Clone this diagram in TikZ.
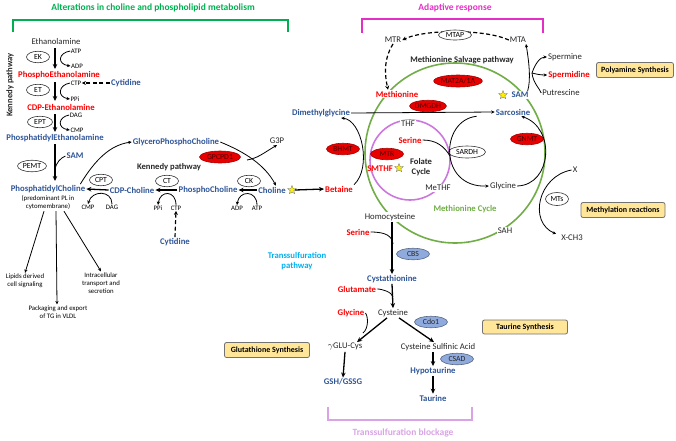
\documentclass[tikz,border=0pt]{standalone}
\usepackage{fontspec}
\setmainfont{Carlito}
\usetikzlibrary{arrows.meta,shapes.geometric,calc}
\definecolor{cblue}{HTML}{2F5597}
\definecolor{cred}{HTML}{FF0000}
\definecolor{tgreen}{HTML}{00B050}
\definecolor{cgreen}{HTML}{70AD47}
\definecolor{cmag}{HTML}{E42FC6}
\definecolor{cviol}{HTML}{CC77DD}
\definecolor{ccyan}{HTML}{00B0F0}
\definecolor{cblock}{HTML}{D9A3E6}
\definecolor{ered}{HTML}{E80000}
\definecolor{etxt}{HTML}{4A0000}
\definecolor{eblue}{HTML}{8FAADC}
\definecolor{boxfill}{HTML}{FFE699}
\begin{document}
\begin{tikzpicture}[x=1pt,y=-1pt,
  bb/.style={font=\fontsize{8.7}{9.5}\selectfont\bfseries, text=cblue, inner sep=1pt},
  rb/.style={font=\fontsize{8.7}{9.5}\selectfont\bfseries, text=cred, inner sep=1pt},
  kb/.style={font=\fontsize{8.6}{9.5}\selectfont\bfseries, text=black!85, inner sep=1pt},
  lbl/.style={font=\fontsize{8.7}{9.5}\selectfont, text=black!85, inner sep=1pt},
  sm/.style={font=\fontsize{6.8}{7}\selectfont, inner sep=0.5pt},
  note/.style={font=\fontsize{6.8}{8}\selectfont, align=center, inner sep=1pt},
  enz/.style={ellipse, draw=black!80, line width=0.6pt, fill=white, font=\fontsize{7.8}{8}\selectfont, inner sep=0pt, minimum width=23pt, minimum height=11.5pt},
  renz/.style={enz, fill=ered, draw=ered!70!black, text=etxt, minimum width=33pt},
  benz/.style={enz, fill=eblue, draw=eblue!60!black, text=black!85, minimum width=33pt},
  box/.style={rounded corners=2pt, draw=black!55, fill=boxfill, line width=0.8pt, font=\fontsize{8}{9}\selectfont\bfseries, minimum height=15pt, inner sep=1pt},
  thk/.style={line width=1.3pt, -{Stealth[length=5pt,width=4.5pt]}},
  thn/.style={line width=0.8pt, -{Stealth[length=3.5pt,width=3.2pt]}},
  ln/.style={line width=0.8pt},
  dsh/.style={line width=1.2pt, dash pattern=on 4pt off 2.5pt, -{Stealth[length=4pt,width=4pt]}},
  ystar/.style={star, star points=5, star point ratio=2.3, fill=yellow, draw=black!50, line width=0.4pt, minimum size=9pt, inner sep=0pt},
  ttl/.style={font=\fontsize{9.5}{11}\selectfont\bfseries}
]
\useasboundingbox (0,0) rectangle (676,440);

% ---------- titles and brackets ----------
\node[ttl, text=tgreen] (t1) at (153,8) {Alterations in choline and phospholipid metabolism};
\draw[tgreen, line width=1.2pt] (13,32) -- (13,20) -- (288,20) -- (288,32);
\node[ttl, text=cmag] (t2) at (455,8) {Adaptive response};
\draw[cmag, line width=1.2pt] (362,33) -- (362,19) -- (543,19) -- (543,33);
\node[ttl, text=cblock] (t3) at (403,433) {Transsulfuration blockage};
\draw[cblock, line width=1.2pt] (328,407) -- (328,420) -- (472,420) -- (472,407);

% ---------- Kennedy pathway (ethanolamine) ----------
\node[kb, rotate=90] (kp1) at (10,85) {Kennedy pathway};
\node[lbl] (etn) at (56,42) {Ethanolamine};
\node[enz] (ek) at (38,57) {EK};
\node[sm] (atp1) at (76,51) {ATP};
\node[sm] (adp1) at (77,66) {ADP};
\node[rb] (pe) at (59,75) {PhosphoEthanolamine};
\node[enz] (et) at (38,90) {ET};
\node[sm] (ctp1) at (76,83) {CTP};
\node[sm] (ppi1) at (75,99) {PPi};
\node[bb] (cyt1) at (126,83) {Cytidine};
\node[rb] (cdpe) at (61,107) {CDP-Ethanolamine};
\node[enz, minimum width=25pt] (ept) at (40,122) {EPT};
\node[sm] (dag1) at (76,115) {DAG};
\node[sm] (cmp1) at (77,130) {CMP};
\node[bb] (ptde) at (55,138) {PhosphatidylEthanolamine};

\draw[thk] (55,48) -- (55,69);
\draw[thk] (55,82) -- (55,101);
\draw[thk] (55,114) -- (55,132);
\draw[thn] (atp1.west) .. controls (58,53) and (57,64) .. (adp1.west);
\draw[thn] (ctp1.west) .. controls (58,85) and (57,97) .. (ppi1.west);
\draw[thn] (dag1.west) .. controls (58,117) and (57,128) .. (cmp1.west);
\draw[dsh] (cyt1.west) -- (ctp1.east);

% ---------- PE -> PC ----------
\node[bb] (sam1) at (75,156) {SAM};
\node[enz, minimum width=29pt] (pemt) at (32,166) {PEMT};
\node[bb] (pc) at (48,189) {PhosphatidylCholine};
\node[note] (pcn) at (48,203) {(predominant PL in\\cytomembrane)};
\draw[thk] (55,144) -- (55,181);
\draw[ln] (sam1.west) .. controls (61,158) and (56,162) .. (55,170);

% ---------- Kennedy pathway (choline) ----------
\node[kb] (kp2) at (169,167) {Kennedy pathway};
\node[enz] (cpt) at (101,180) {CPT};
\node[bb] (cdpc) at (132,190) {CDP-Choline};
\node[sm] (cmp2) at (88,207) {CMP};
\node[sm] (dag2) at (112,207) {DAG};
\node[enz] (ct) at (167,181) {CT};
\node[bb] (phc) at (208,190) {PhosphoCholine};
\node[sm] (ppi2) at (158,208) {PPi};
\node[sm] (ctp2) at (176,208) {CTP};
\node[bb] (cyt2) at (175,242) {Cytidine};
\node[enz] (ck) at (249,181) {CK};
\node[bb] (chol) at (272,190) {Choline};
\node[sm] (adp2) at (237,208) {ADP};
\node[sm] (atp2) at (257,208) {ATP};
\node[ystar] (st1) at (292,190) {};
\node[rb] (bet) at (339,189) {Betaine};

\draw[thk] (cdpc.west) -- (pc.east);
\draw[thk] (phc.west) -- (cdpc.east);
\draw[thk] (chol.west) -- (phc.east);
\draw[thn] (dag2.north) .. controls (112,190) and (92,190) .. (cmp2.north);
\draw[thn] (ctp2.north) .. controls (176,190) and (160,190) .. (ppi2.north);
\draw[thn] (atp2.north) .. controls (257,190) and (239,190) .. (adp2.north);
\draw[dsh] (cyt2.north) -- (ctp2.south);
\draw[thk] (st1.east) -- (bet.west);

% ---------- GPC ----------
\node[bb] (gpc) at (176,142) {GlyceroPhosphoCholine};
\node[lbl] (g3p) at (277,141) {G3P};
\node[renz, minimum width=41pt, minimum height=12pt] (gpcpd) at (220,157) {GPCPD1};
\coordinate (gj) at (247,160);
\draw[thn] ([xshift=-6pt]pc.north east) .. controls (95,160) and (110,145) .. (gpc.west);
\draw[thn] (gpc.east) .. controls (245,152) and (265,165) .. ([xshift=4pt]chol.north);
\draw[thn] (gj) .. controls (258,158) and (262,154) .. (g3p.south);

% ---------- PC fates ----------
\node[note] (lip) at (25,281) {Lipids derived\\cell signaling};
\node[note] (intr) at (101,283) {Intracellular\\transport and\\secretion};
\node[note] (pack) at (58,312) {Packaging and export\\of TG in VLDL};
\draw[thn] ([xshift=-4pt]pcn.south) -- (lip.north);
\draw[thn] ([xshift=8pt]pcn.south) -- ([xshift=-1pt]pack.north);
\draw[thn] ([xshift=16pt]pcn.south) -- (intr.north);

% ---------- Methionine salvage ----------
\node[lbl] (mtr) at (393,40) {MTR};
\node[lbl] (mta) at (518,40) {MTA};
\node[kb] (msp) at (462,60) {Methionine Salvage pathway};
\draw[dsh] (mta.west) .. controls (485,29) and (425,29) .. (mtr.east);
\node[enz, minimum width=33pt, minimum height=10pt] (mtap) at (455,35) {MTAP};

% ---------- circles ----------
\draw[cgreen, line width=1.6pt] (455,153) circle[radius=90];
\draw[cviol, line width=1.6pt] (410,160) circle[radius=40];

% ---------- methionine cycle labels ----------
\node[rb, fill=white] (met) at (397,94) {Methionine};
\node[bb, fill=white] (sam2) at (520,95) {SAM};
\node[ystar] (st2) at (503,95) {};
\node[lbl, fill=white] (hcy) at (390,217) {Homocysteine};
\node[lbl, fill=white] (sah) at (505,231) {SAH};
\node[font=\fontsize{8.7}{9.5}\selectfont\bfseries, text=cgreen] (mcy) at (465,209) {Methionine Cycle};
\node[renz, minimum width=44pt, minimum height=12pt] (mat) at (458,81) {MAT2A/1A};
\draw[dsh] (mtr.south) .. controls (383,60) and (385,76) .. ([xshift=-9pt]met.north);

% polyamines
\node[lbl] (spm) at (565,57) {Spermine};
\node[rb] (spd) at (569,75) {Spermidine};
\node[lbl] (put) at (561,93) {Putrescine};
\node[box, minimum width=77pt] (pbox) at (635,70) {Polyamine Synthesis};
\coordinate (jn) at (532,73);
\draw[thn] ([xshift=-2pt]sam2.north east) .. controls (531,80) and (529,62) .. ([xshift=8pt]mta.south);
\draw[ln] (put.west) .. controls (540,89) and (533,83) .. (jn);
\draw[thn] (jn) .. controls (535,64) and (540,57) .. (spm.west);
\draw[thn] (jn) .. controls (536,74) and (540,75) .. (spd.west);

% dimethylglycine -> sarcosine
\node[bb] (dmg) at (321,113) {Dimethylglycine};
\node[bb] (sarc) at (513,112) {Sarcosine};
\draw[thn] (dmg.east) -- (sarc.west);
\node[renz] (dmgdh) at (428,106) {DMGDH};

% betaine -> DMG
\node[renz] (bhmt) at (343,149) {BHMT};
\draw[thn] (bet.north east) .. controls (372,168) and (362,120) .. ([xshift=-10pt]dmg.south east);

% folate cycle
\node[lbl, fill=white] (thf) at (408,124) {THF};
\node[lbl, fill=white] (methf) at (438,188) {MeTHF};
\node[rb] (ser1) at (410,140) {Serine};
\node[renz] (mtr2) at (387,154) {MTR};
\node[rb] (smthf) at (380,169) {SMTHF};
\node[ystar] (st3) at (399,168) {};
\node[kb, align=center] (fol) at (421,167) {Folate\\Cycle};

% sarcosine -> glycine
\node[lbl] (gly) at (503,186) {Glycine};
\node[enz, minimum width=37pt, minimum height=12pt] (sardh) at (467,152) {SARDH};
\draw[thn] ([xshift=-18pt]sarc.south west) .. controls (440,120) and (438,188) .. (gly.west);
\draw[ln] (ser1.east) .. controls (436,140) and (444,146) .. (450,156);
\node[renz] (gnmt) at (527,139) {GNMT};
\draw[thn] (gly.east) .. controls (552,185) and (556,128) .. ([xshift=-10pt]sarc.south east);

% methylation
\node[lbl] (xx) at (575,170) {X};
\node[lbl] (xch) at (572,238) {X-CH3};
\node[enz, minimum width=23pt, minimum height=13pt] (mts) at (557,199) {MTs};
\node[box, minimum width=84pt] (mbox) at (623,210) {Methylation reactions};
\draw[thn] (xx.west) .. controls (538,176) and (528,222) .. ([xshift=-4pt]xch.north west);

% ---------- transsulfuration ----------
\node[font=\fontsize{8.7}{9.5}\selectfont\bfseries, text=ccyan, align=center] (tsp) at (297,261) {Transsulfuration\\pathway};
\node[rb] (ser2) at (358,232) {Serine};
\node[benz] (cbs) at (413,254) {CBS};
\node[bb] (cysta) at (392,279) {Cystathionine};
\node[rb] (glu) at (357,289) {Glutamate};
\node[lbl] (cys) at (393,313) {Cysteine};
\node[rb] (gly2) at (351,313) {Glycine};
\node[benz] (cdo) at (431,322) {Cdo1};
\node[lbl] (ggc) at (345,347) {$\gamma$GLU-Cys};
\node[lbl] (csa) at (438,347) {Cysteine Sulfinic Acid};
\node[bb] (gsh) at (343,382) {GSH/GSSG};
\node[benz] (csad) at (457,359) {CSAD};
\node[bb] (hyp) at (433,371) {Hypotaurine};
\node[bb] (tau) at (433,398) {Taurine};
\node[box, minimum width=85pt, minimum height=14pt] (tbox) at (525,327) {Taurine Synthesis};
\node[box, minimum width=85pt] (gbox) at (267,350) {Glutathione Synthesis};

\coordinate (j1) at (393,244);
\coordinate (j2) at (393,297);
\coordinate (j3) at (363,333);
\draw[thk] (cysta.north |- hcy.south) -- (cysta.north);
\draw[ln] (ser2.east) .. controls (386,232) and (392,236) .. (j1);
\draw[thk] (cysta.south) -- (cys.north);
\draw[ln] (glu.east) .. controls (382,289) and (392,292) .. (j2);
\draw[thk] ([xshift=-6pt]cys.south) -- ([xshift=12pt]ggc.north);
\draw[ln] (gly2.east) .. controls (368,316) and (369,328) .. (j3);
\draw[thk] ([xshift=6pt]cys.south) -- ([xshift=-4pt]csa.north);
\draw[thk] (ggc.south) -- (gsh.north);
\draw[thk] (hyp.north |- csa.south) -- (hyp.north);
\draw[thk] (hyp.south) -- (tau.north);
\end{tikzpicture}
\end{document}
